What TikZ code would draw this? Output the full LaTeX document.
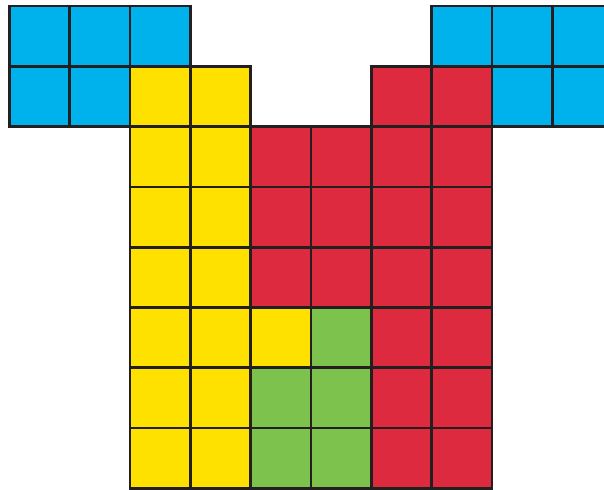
\documentclass[tikz,border=0pt]{standalone}
\definecolor{cblue}{HTML}{00B2EB}
\definecolor{cyellow}{HTML}{FFE100}
\definecolor{cred}{HTML}{DE2A3E}
\definecolor{cgreen}{HTML}{7DC24C}
\definecolor{cline}{HTML}{231F20}
\begin{document}
\begin{tikzpicture}[x=0.5pt,y=-0.5pt,
  cell/.style={draw=cline,line width=1.35pt}]
\useasboundingbox (0,0) rectangle (604,490);
\clip (0,0) rectangle (604,490);
\def\pitch{60.3}
\def\ox{9.5}
\def\oy{6}
\newcommand{\cellat}[3]{%
  \path[cell,fill=#3] ({\ox+#1*\pitch},{\oy+#2*\pitch}) rectangle ({\ox+(#1+1)*\pitch},{\oy+(#2+1)*\pitch});}
% row 0
\foreach \c in {0,1,2,7,8,9} {\cellat{\c}{0}{cblue}}
% row 1
\foreach \c in {0,1,8,9} {\cellat{\c}{1}{cblue}}
\foreach \c in {2,3} {\cellat{\c}{1}{cyellow}}
\foreach \c in {6,7} {\cellat{\c}{1}{cred}}
% rows 2-4
\foreach \r in {2,3,4} {
  \foreach \c in {2,3} {\cellat{\c}{\r}{cyellow}}
  \foreach \c in {4,5,6,7} {\cellat{\c}{\r}{cred}}
}
% row 5
\foreach \c in {2,3,4} {\cellat{\c}{5}{cyellow}}
\cellat{5}{5}{cgreen}
\foreach \c in {6,7} {\cellat{\c}{5}{cred}}
% rows 6-7
\foreach \r in {6,7} {
  \foreach \c in {2,3} {\cellat{\c}{\r}{cyellow}}
  \foreach \c in {4,5} {\cellat{\c}{\r}{cgreen}}
  \foreach \c in {6,7} {\cellat{\c}{\r}{cred}}
}
\end{tikzpicture}
\end{document}
